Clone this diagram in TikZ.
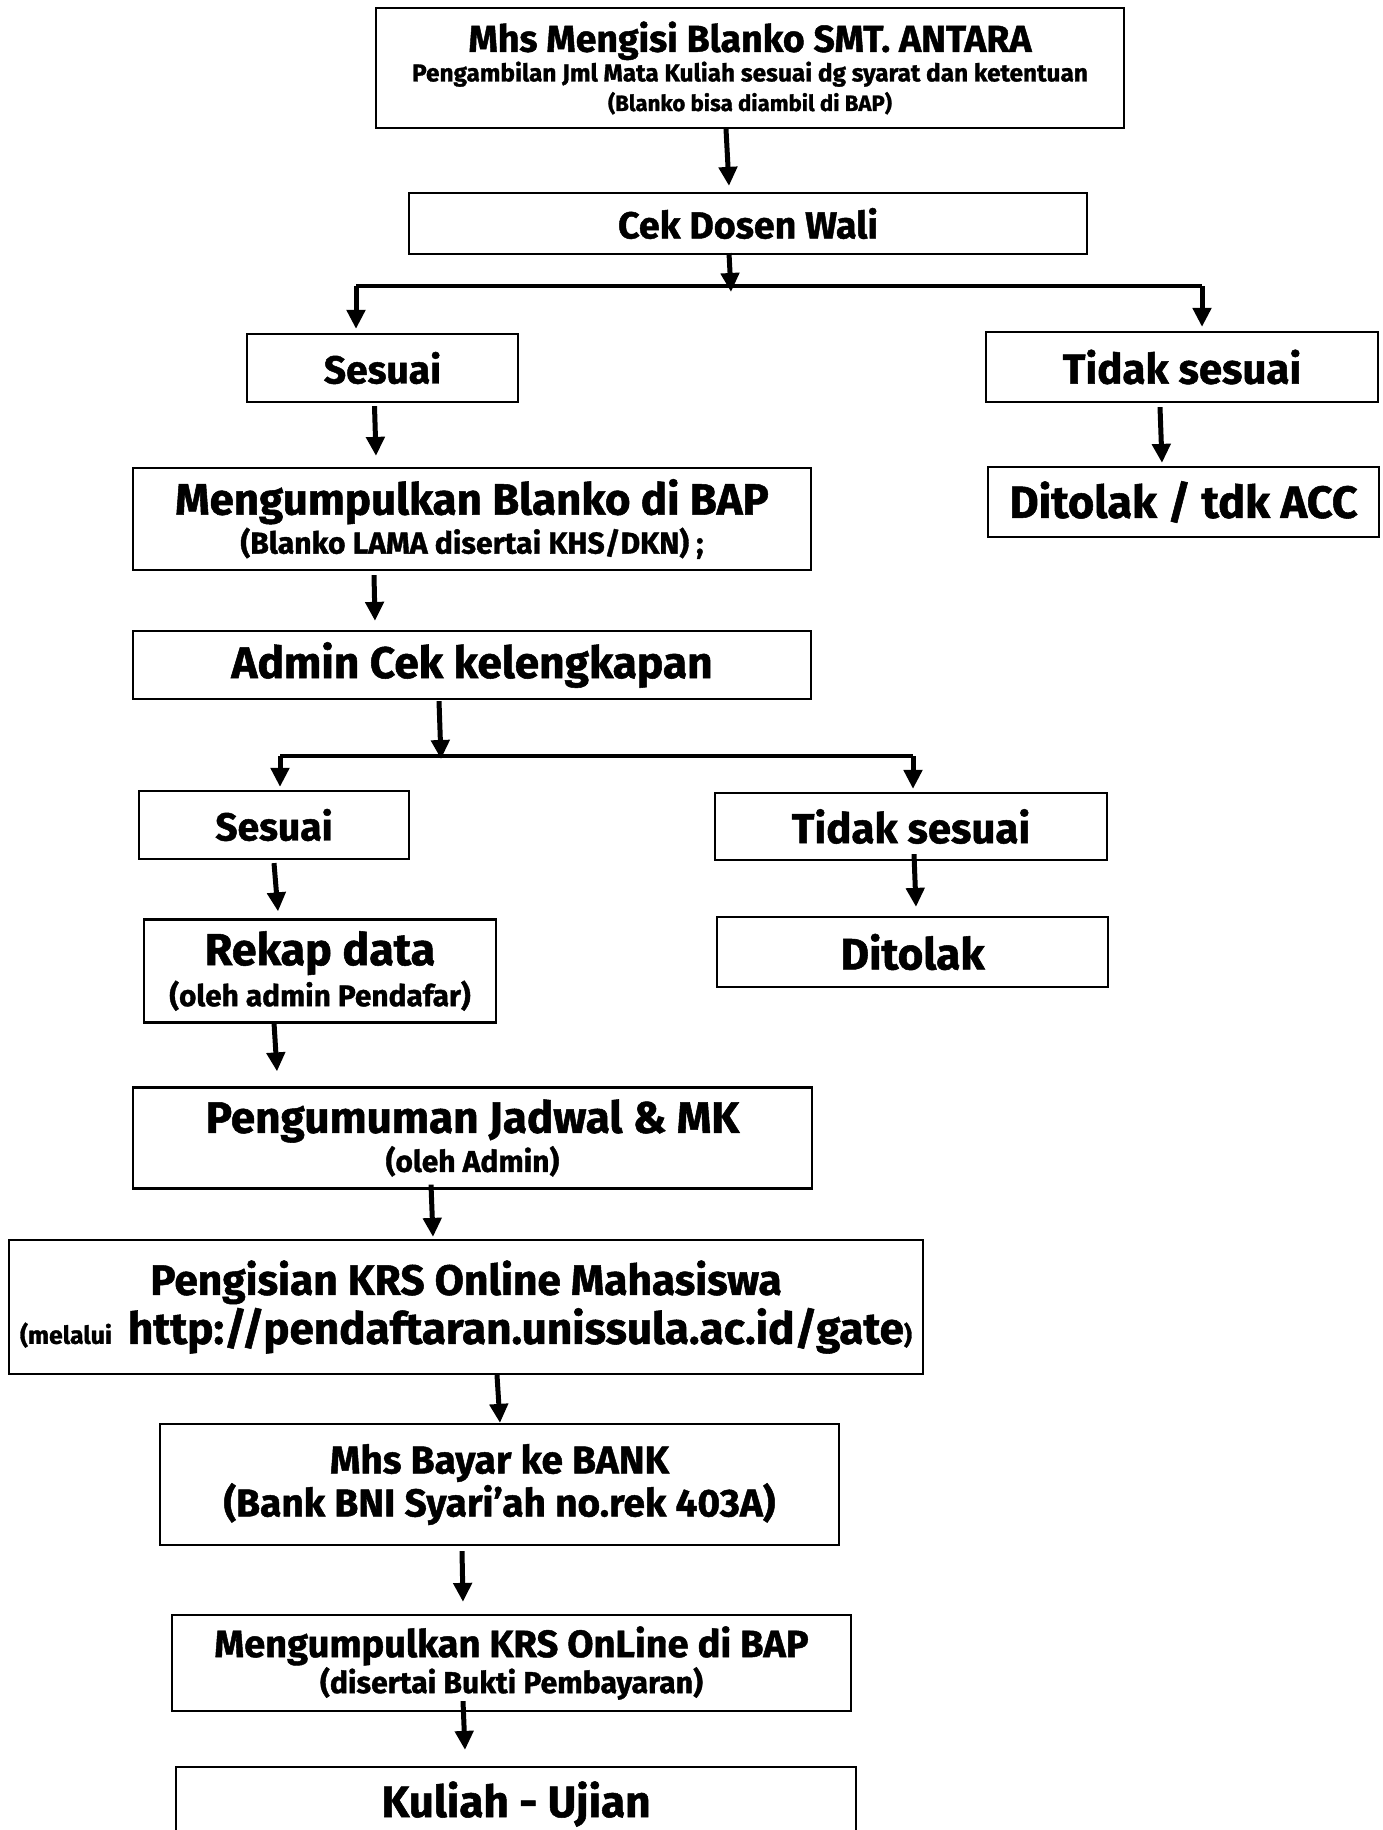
\documentclass[tikz,border=0pt]{standalone}
\usepackage{fontspec}
\setmainfont{Fira Sans}[BoldFeatures={FakeBold=1.2}]
\usetikzlibrary{arrows.meta}
\usetikzlibrary{calc}

\begin{document}
\begin{tikzpicture}[x=0.5pt,y=-0.5pt]
\tikzset{
flowbox/.style = {draw,line width=1.1pt,fill=white,inner sep=2pt,align=center},
flowarrow/.style = {line width=2.5pt,-{Triangle[width=9pt,length=9.5pt]}},
splitline/.style = {line width=2pt},
}
\clip (0,0) rectangle (1382,1830);
    %
% Top part.
\node[flowbox,minimum width=374pt,minimum height=60pt,font=\bfseries\fontsize{12.2}{14.8}\selectfont] (mengisi) at (750,68)
 {{\fontsize{18.7}{14.8}\selectfont Mhs Mengisi Blanko SMT. ANTARA}\\
  Pengambilan Jml Mata Kuliah sesuai dg syarat dan ketentuan\\
  {\fontsize{11.1}{14.8}\selectfont (Blanko bisa diambil di BAP)}};
\node[flowbox,minimum width=339pt,minimum height=30.5pt,font=\bfseries\fontsize{18.8}{20}\selectfont] (cekwali) at (748,223.5) {Cek Dosen Wali};
\node[flowbox,minimum width=135.5pt,minimum height=34pt,font=\bfseries\fontsize{19.5}{20}\selectfont] (sesuaiA) at (382.5,368) {Sesuai};
\node[flowbox,minimum width=196pt,minimum height=35pt,font=\bfseries\fontsize{21}{22}\selectfont] (tidakA) at (1182,367) {Tidak sesuai};
\node[flowbox,minimum width=339pt,minimum height=51pt,font=\bfseries\fontsize{21.9}{19.5}\selectfont] (kumpul) at (472,519)
 {Mengumpulkan Blanko di BAP\\
  {\fontsize{15.1}{19.5}\selectfont (Blanko LAMA disertai KHS/DKN) ;}};
\node[flowbox,minimum width=195.5pt,minimum height=35pt,font=\bfseries\fontsize{22.5}{23}\selectfont] (tolakA) at (1183.5,502) {Ditolak / tdk ACC};
\node[flowbox,minimum width=339pt,minimum height=34pt,font=\bfseries\fontsize{22.1}{23}\selectfont] (admin) at (472,665) {Admin Cek kelengkapan};
    %
% Second split.
\node[flowbox,minimum width=135pt,minimum height=34pt,font=\bfseries\fontsize{19.5}{20}\selectfont] (sesuaiB) at (274,825) {Sesuai};
\node[flowbox,minimum width=196pt,minimum height=33.5pt,font=\bfseries\fontsize{21}{22}\selectfont] (tidakB) at (911,826.5) {Tidak sesuai};
\node[flowbox,minimum width=176pt,minimum height=51.5pt,font=\bfseries\fontsize{22.4}{20.5}\selectfont] (rekap) at (320,971)
 {Rekap data\\
  {\fontsize{14.9}{20.5}\selectfont (oleh admin Pendafar)}};
\node[flowbox,minimum width=195.5pt,minimum height=35pt,font=\bfseries\fontsize{22}{23}\selectfont] (tolakB) at (912.5,952) {Ditolak};
    %
% Bottom part.
\node[flowbox,minimum width=339.5pt,minimum height=50.5pt,font=\bfseries\fontsize{22}{19.5}\selectfont] (umum) at (472.5,1138)
 {Pengumuman Jadwal \& MK\\
  {\fontsize{15}{19.5}\selectfont (oleh Admin)}};
\node[flowbox,minimum width=457pt,minimum height=67pt,font=\bfseries\fontsize{21.2}{24.5}\selectfont] (isikrs) at (466,1307)
 {Pengisian KRS Online Mahasiswa\\
  {\fontsize{12.4}{24.5}\selectfont (melalui}\hspace{3pt} {\fontsize{22}{24.5}\selectfont http://pendaftaran.unissula.ac.id/gate}{\fontsize{12.4}{24.5}\selectfont )}};
\node[flowbox,minimum width=339.5pt,minimum height=60.5pt,font=\bfseries\fontsize{19.4}{21.5}\selectfont] (bayar) at (499.5,1484.5)
 {Mhs Bayar ke BANK\\
  (Bank BNI Syari’ah no.rek 403A)};
\node[flowbox,minimum width=339.5pt,minimum height=48pt,font=\bfseries\fontsize{19}{18}\selectfont] (kumpulkrs) at (511.5,1663)
 {Mengumpulkan KRS OnLine di BAP\\
  {\fontsize{15.1}{18}\selectfont (disertai Bukti Pembayaran)}};
\node[flowbox,minimum width=340pt,minimum height=37pt,font=\bfseries\fontsize{22}{23}\selectfont] (kuliah) at (516,1804) {Kuliah - Ujian};
    %
% Split points.
\coordinate (splitA) at (731,286);
\coordinate (splitAL) at (356,286);
\coordinate (splitAR) at (1202,286);
\coordinate (splitB) at (441,756);
\coordinate (splitBL) at (280,756);
\coordinate (splitBR) at (913,756);
\draw[splitline] (splitAL) -- (splitAR);
\draw[splitline] (splitBL) -- (splitBR);
    %
% Arrows.
\draw[flowarrow] ($(mengisi.south)+(-24,0)$) -- ($(cekwali.north)+(-19,-6)$);
\draw[flowarrow] ($(cekwali.south)+(-19,-2)$) -- ($(splitA)+(0,6)$);
\draw[flowarrow,shorten >=2pt] (splitAL) -- (sesuaiA.north -| splitAL);
\draw[flowarrow,shorten >=2pt] (splitAR) -- (tidakA.north -| splitAR);
\draw[flowarrow] ($(sesuaiA.south)+(-8,3)$) -- ($(kumpul.north)+(-96,-11)$);
\draw[flowarrow] ($(tidakA.south)+(-22,4)$) -- ($(tolakA.north)+(-21.5,-3)$);
\draw[flowarrow] ($(kumpul.south)+(-98,4)$) -- ($(admin.north)+(-97,-9)$);
\draw[flowarrow] ($(admin.south)+(-33,1)$) -- ($(splitB)+(0,3)$);
\draw[flowarrow,shorten >=1.5pt] (splitBL) -- (sesuaiB.north -| splitBL);
\draw[flowarrow,shorten >=1.5pt] (splitBR) -- (tidakB.north -| splitBR);
\draw[flowarrow] ($(sesuaiB.south)+(0,3)$) -- ($(rekap.north)+(-42,-7)$);
\draw[flowarrow] ($(tidakB.south)+(3,-7)$) -- ($(tolakB.north)+(3.5,-9)$);
\draw[flowarrow] ($(rekap.south)+(-46,-1)$) -- ($(umum.north)+(-195.5,-15)$);
\draw[flowarrow] ($(umum.south)+(-41.5,-5)$) -- ($(isikrs.north)+(-33,-2)$);
\draw[flowarrow] ($(isikrs.south)+(31,0)$) -- ($(bayar.north)+(0.5,0)$);
\draw[flowarrow] ($(bayar.south)+(-37.5,5)$) -- ($(kumpulkrs.north)+(-48.5,-12)$);
\draw[flowarrow] ($(kumpulkrs.south)+(-48.5,-11)$) -- ($(kuliah.north)+(-51,-16)$);
    %
\end{tikzpicture}
\end{document}
